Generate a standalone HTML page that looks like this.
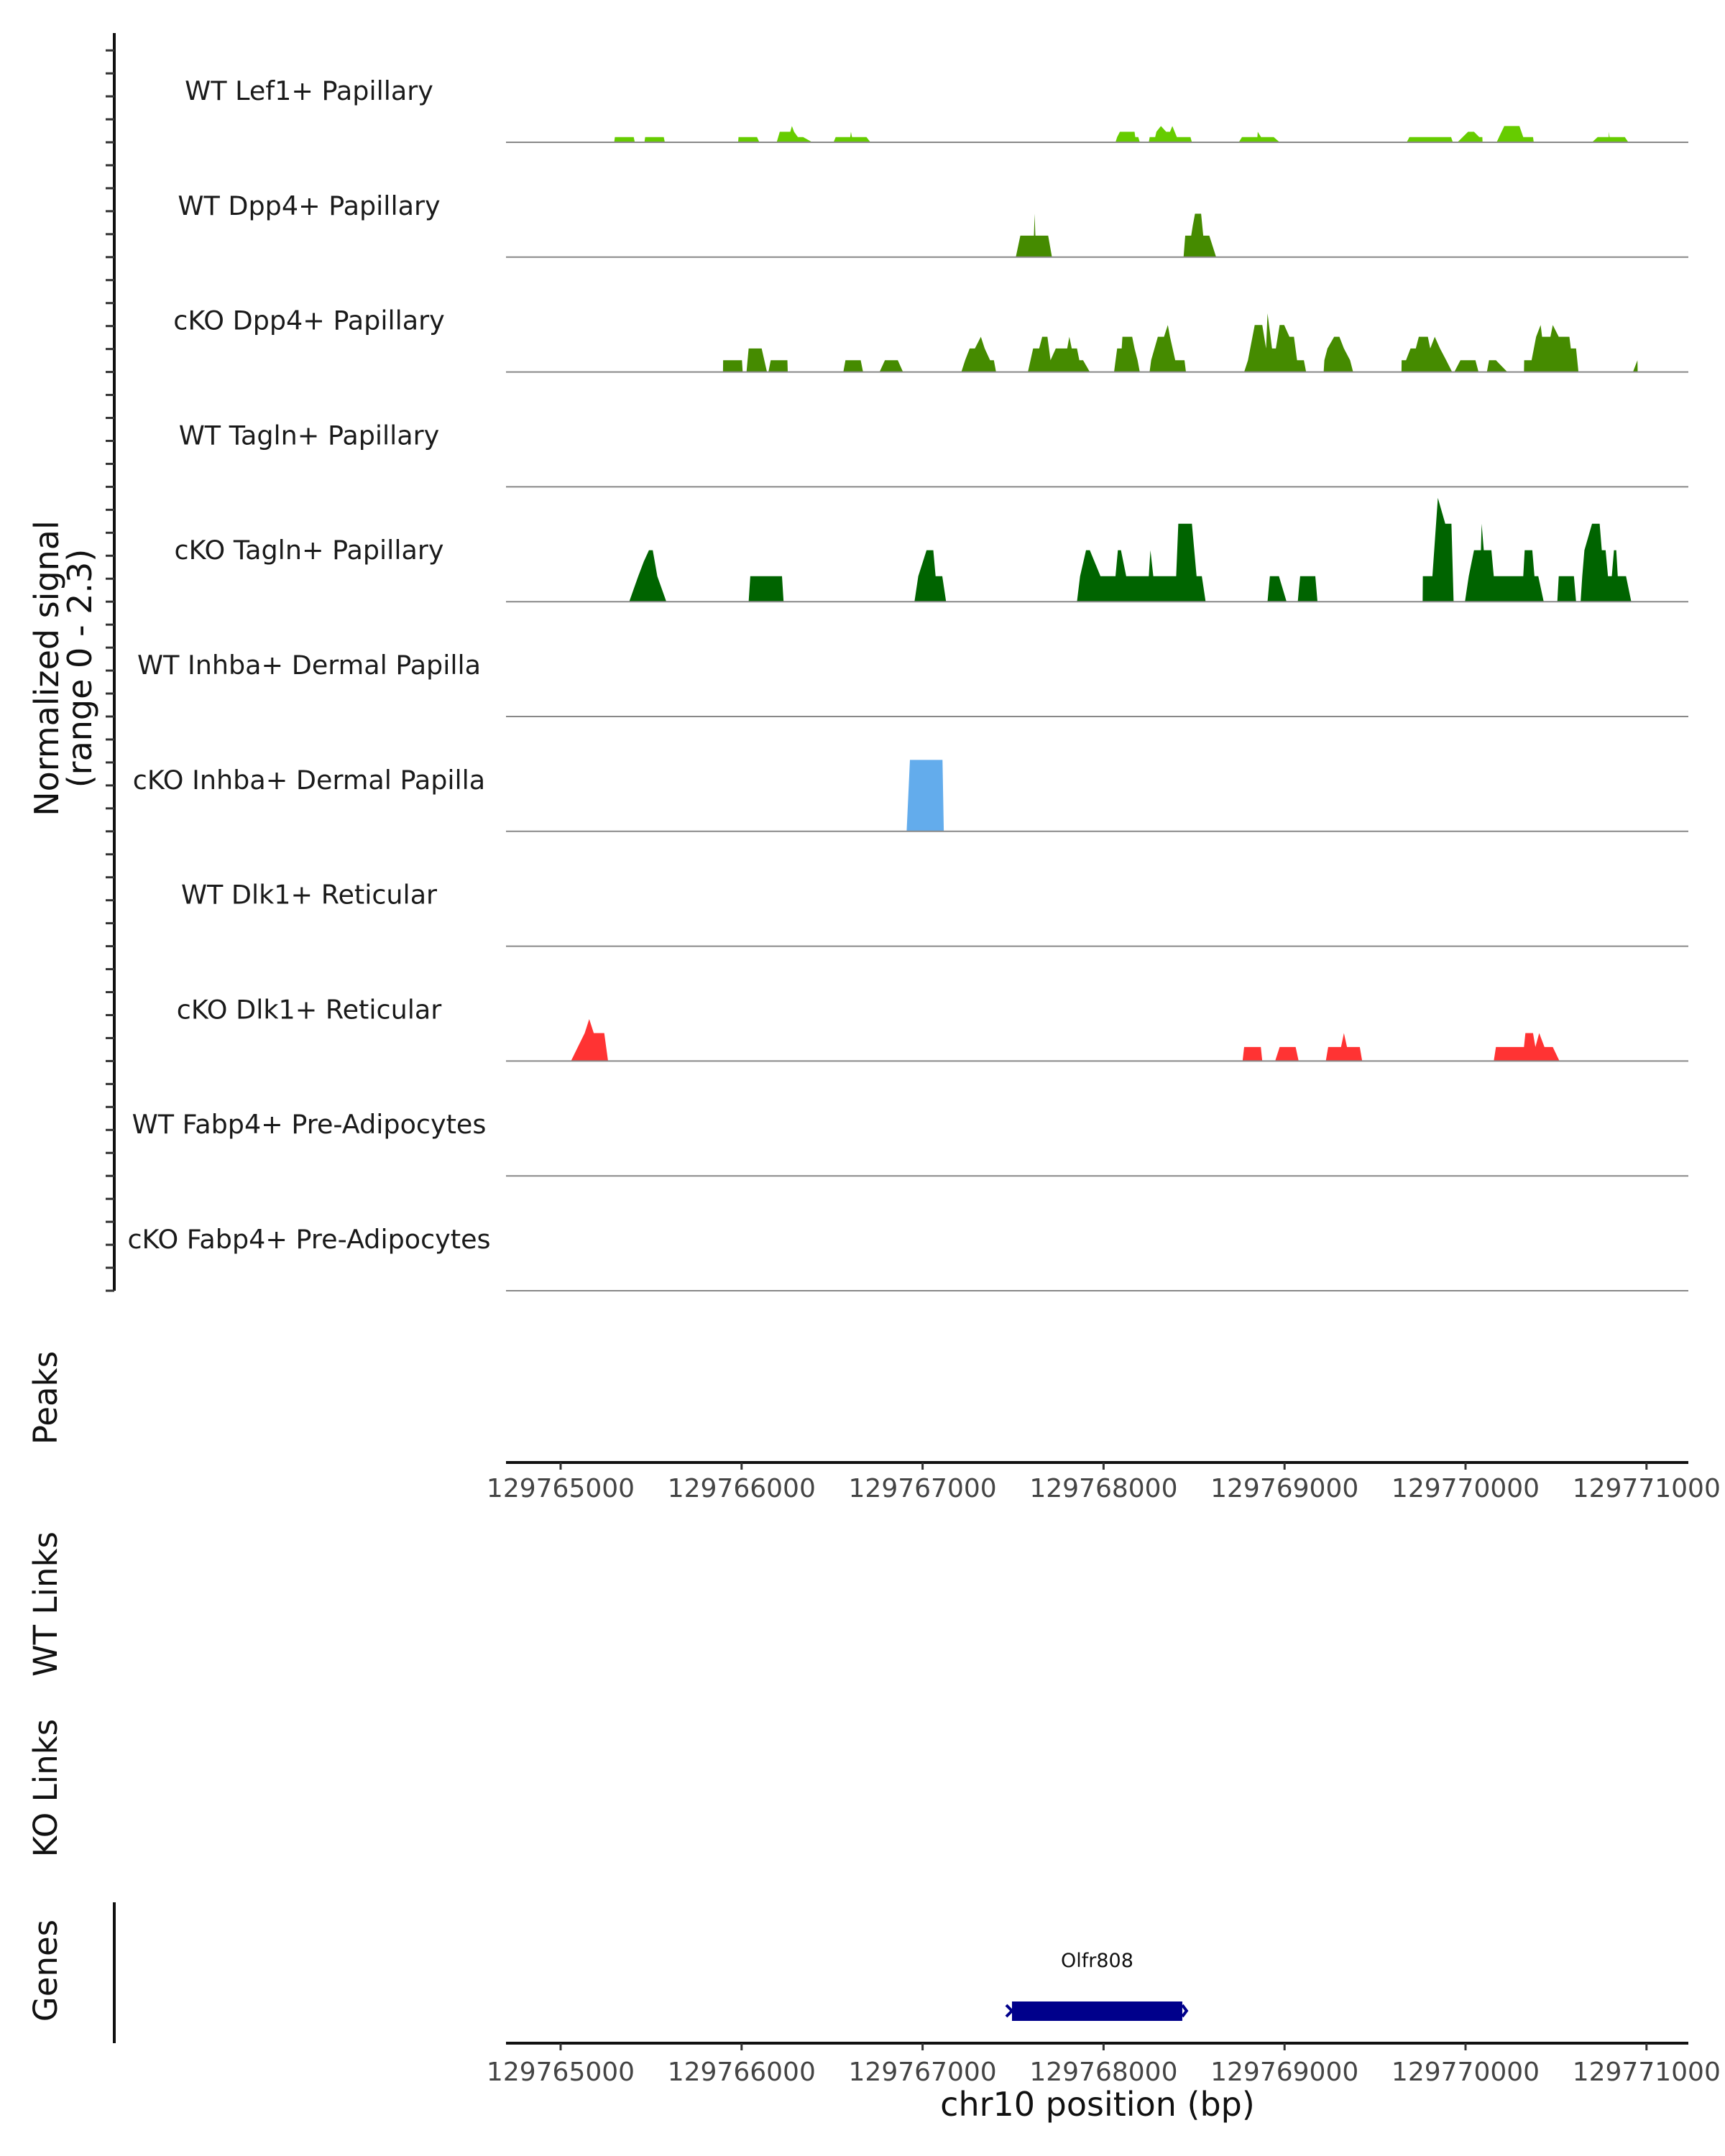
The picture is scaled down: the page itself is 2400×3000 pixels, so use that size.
<!DOCTYPE html>
<html><head><meta charset="utf-8"><style>
html,body{margin:0;padding:0;background:#fff;}
svg{display:block;font-family:"DejaVu Sans","Liberation Sans",sans-serif;}
</style></head><body>
<svg id="chart" width="2400" height="3000" viewBox="0 0 2400 3000" xmlns="http://www.w3.org/2000/svg">
<g id="tracks"></g>
<g id="leftaxis"></g>
<g id="xaxes"></g>
<text transform="translate(81,930) rotate(-90)" text-anchor="middle" font-size="46" fill="#111">Normalized signal</text>
<text transform="translate(127,930) rotate(-90)" text-anchor="middle" font-size="46" fill="#111">(range 0 - 2.3)</text>
<text transform="translate(79,1945) rotate(-90)" text-anchor="middle" font-size="45" fill="#111">Peaks</text>
<text transform="translate(79,2232) rotate(-90)" text-anchor="middle" font-size="45" fill="#111">WT Links</text>
<text transform="translate(79,2488) rotate(-90)" text-anchor="middle" font-size="45" fill="#111">KO Links</text>
<text transform="translate(79,2742) rotate(-90)" text-anchor="middle" font-size="45" fill="#111">Genes</text>
<line x1="159" y1="2647" x2="159" y2="2843" stroke="#111" stroke-width="4"/>
<g id="genes"></g>
<text x="1527" y="2944" text-anchor="middle" font-size="46" fill="#111">chr10 position (bp)</text>
</svg>
<script>
const START = 129765000;
const trackNames = ["WT Lef1+ Papillary","WT Dpp4+ Papillary","cKO Dpp4+ Papillary","WT Tagln+ Papillary","cKO Tagln+ Papillary","WT Inhba+ Dermal Papilla","cKO Inhba+ Dermal Papilla","WT Dlk1+ Reticular","cKO Dlk1+ Reticular","WT Fabp4+ Pre-Adipocytes","cKO Fabp4+ Pre-Adipocytes"];
const trackColors = ["#66cc00","#458b00","#458b00","#006400","#006400","#63acec","#63acec","#ff3333","#ff3333","#aaaaaa","#aaaaaa"];
const tickValues = [129765000,129766000,129767000,129768000,129769000,129770000,129771000];
const geneStart = 129767494, geneEnd = 129768435;
const geneName = "Olfr808";
// coverage points: [bp offset from START, normalized signal]
const lef1WT = [[296,0],[300,.105],[404,.105],[410,0],[463,0],[467,.105],[570,.105],[576,0],[981,0],[983,.105],[1085,.105],[1098,0],[1194,0],[1211,.21],[1269,.21],[1278,.325],[1290,.21],[1311,.105],[1340,.105],[1391,0],[1508,0],[1520,.105],[1600,.105],[1604,.21],[1610,.105],[1690,.105],[1712,0],[3066,0],[3075,.105],[3090,.21],[3171,.21],[3175,.105],[3192,.105],[3200,0],[3250,0],[3255,.105],[3285,.105],[3292,.21],[3317,.325],[3346,.21],[3367,.21],[3380,.325],[3405,.105],[3480,.105],[3488,0],[3747,0],[3765,.105],[3850,.105],[3852,.21],[3870,.105],[3940,.105],[3973,0],[4675,0],[4690,.105],[4920,.105],[4930,0],[4955,0],[5014,.21],[5047,.21],[5076,.105],[5093,.105],[5094,0],[5172,0],[5185,.105],[5214,.325],[5298,.325],[5319,.105],[5373,.105],[5377,0],[5699,0],[5730,.105],[5791,.105],[5792,.21],[5796,.105],[5880,.105],[5900,0]];
const dpp4WT = [[2515,0],[2540,.43],[2615,.43],[2619,.87],[2623,.43],[2694,.43],[2715,0],[3442,0],[3451,.43],[3484,.43],[3493,.63],[3505,.87],[3539,.87],[3551,.43],[3584,.43],[3622,0]];
const dpp4KO = [[897,0],[898,.235],[1002,.235],[1006,0],[1027,0],[1039,.47],[1111,.47],[1140,0],[1148,0],[1161,.235],[1253,.235],[1255,0],[1562,0],[1574,.235],[1658,.235],[1671,0],[1762,0],[1792,.235],[1863,.235],[1892,0],[2214,0],[2235,.235],[2260,.47],[2289,.47],[2322,.705],[2343,.47],[2373,.235],[2394,.235],[2406,0],[2582,0],[2611,.47],[2644,.47],[2661,.705],[2690,.705],[2707,.235],[2736,.47],[2799,.47],[2811,.705],[2824,.47],[2853,.47],[2866,.235],[2887,.235],[2924,0],[3058,0],[3075,.47],[3100,.47],[3104,.705],[3158,.705],[3171,.47],[3188,.235],[3200,0],[3254,0],[3263,.235],[3300,.705],[3334,.705],[3355,.94],[3367,.705],[3396,.235],[3447,.235],[3455,0],[3777,0],[3798,.235],[3835,.94],[3877,.94],[3898,.47],[3906,1.175],[3931,.47],[3952,.47],[3973,.94],[3998,.94],[4027,.705],[4052,.705],[4069,.235],[4107,.235],[4119,0],[4216,0],[4220,.235],[4237,.47],[4274,.705],[4303,.705],[4328,.47],[4362,.235],[4379,0],[4646,0],[4647,.235],[4671,.235],[4696,.47],[4725,.47],[4742,.705],[4792,.705],[4805,.47],[4830,.705],[4859,.47],[4893,.235],[4926,0],[4938,0],[4972,.235],[5055,.235],[5072,0],[5118,0],[5130,.235],[5168,.235],[5231,0],[5323,0],[5324,.235],[5365,.235],[5390,.705],[5415,.94],[5423,.705],[5469,.705],[5482,.94],[5515,.705],[5574,.705],[5582,.47],[5611,.47],[5624,0],[5925,0],[5950,.235],[5951,0]];
const taglnKO = [[379,0],[429,.51],[459,.8],[488,1.03],[509,1.03],[534,.51],[584,0],[1039,0],[1048,.51],[1223,.51],[1232,0],[1955,0],[1976,.51],[2022,1.03],[2059,1.03],[2072,.51],[2109,.51],[2130,0],[2853,0],[2870,.51],[2903,1.03],[2924,1.03],[2983,.51],[3066,.51],[3079,1.03],[3096,1.03],[3125,.51],[3250,.51],[3259,1.03],[3275,.51],[3401,.51],[3413,1.56],[3488,1.56],[3514,.51],[3543,.51],[3564,0],[3906,0],[3919,.51],[3969,.51],[4011,0],[4073,0],[4086,.51],[4170,.51],[4182,0],[4763,0],[4764,.51],[4817,.51],[4847,2.08],[4888,1.56],[4922,1.56],[4934,0],[4997,0],[5018,.51],[5047,1.03],[5085,1.03],[5089,1.56],[5101,1.03],[5143,1.03],[5156,.51],[5319,.51],[5327,1.03],[5369,1.03],[5381,.51],[5402,.51],[5432,0],[5507,0],[5515,.51],[5599,.51],[5611,0],[5636,0],[5645,.51],[5657,1.03],[5699,1.56],[5741,1.56],[5753,1.03],[5774,1.03],[5787,.51],[5808,.51],[5820,1.03],[5833,1.03],[5841,.51],[5887,.51],[5916,0]];
const inhbaKO = [[1912,0],[1930,1.43],[2110,1.43],[2117,0]];
const dlk1KO = [[57,0],[133,.56],[158,.84],[183,.56],[241,.56],[262,0],[3768,0],[3777,.28],[3869,.28],[3877,0],[3948,0],[3973,.28],[4061,.28],[4078,0],[4228,0],[4241,.28],[4312,.28],[4328,.56],[4345,.28],[4416,.28],[4429,0],[5156,0],[5168,.28],[5323,.28],[5331,.56],[5373,.56],[5386,.28],[5407,.56],[5436,.28],[5482,.28],[5519,0]];
const trackData = [lef1WT,dpp4WT,dpp4KO,[],taglnKO,[],inhbaKO,[],dlk1KO,[],[]];

const NS = "http://www.w3.org/2000/svg";
const X0 = 780, PXPERBP = 0.2518, PL = 704, PR = 2349;
const TRACK_H = 159.8, BASE0 = 198, YMAX = 2.3;
function xs(bp){ return X0 + (bp - START) * PXPERBP; }
function ys(i, v){ return BASE0 + TRACK_H * i - v / YMAX * TRACK_H; }
function mk(tag, attrs, parent){ const e = document.createElementNS(NS, tag); for (const k in attrs) e.setAttribute(k, attrs[k]); parent.appendChild(e); return e; }

const tracks = document.getElementById('tracks');
trackNames.forEach((name, i) => {
  const g = mk('g', {}, tracks);
  
  
  const base = ys(i, 0);
  const lab = mk('text', {x: 430, y: base - 59, 'text-anchor': 'middle', 'font-size': 36.5, fill: '#1a1a1a'}, g);
  lab.textContent = name;
  
  
  const d = trackData[i];
  if (d.length) {
    let pts = xs(START + d[0][0]).toFixed(1) + ',' + base;
    d.forEach(p => { pts += ' ' + xs(START + p[0]).toFixed(1) + ',' + ys(i, p[1]).toFixed(1); });
    pts += ' ' + xs(START + d[d.length - 1][0]).toFixed(1) + ',' + base;
    const poly = mk('polygon', {points: pts, fill: trackColors[i]}, g);
    
    
  }
  const ln = mk('line', {x1: PL, x2: PR, y1: base, y2: base, stroke: '#888', 'stroke-width': 2}, g);
  
  
});

const la = document.getElementById('leftaxis');
const axl = mk('line', {x1: 159, x2: 159, y1: 46, y2: ys(10, 0), stroke: '#111', 'stroke-width': 4}, la);


for (let k = -4; k <= 50; k++) {
  const y = BASE0 + k * TRACK_H / 5;
  const t = mk('line', {x1: 147, x2: 159, y1: y, y2: y, stroke: '#333', 'stroke-width': 3}, la);
  
  
}

const xa = document.getElementById('xaxes');
[[2035, 2083, 'peaks-x-axis'], [2843, 2895, 'bottom-x-axis']].forEach(([ay, ty, nm]) => {
  const g = mk('g', {}, xa);
  
  
  const l = mk('line', {x1: PL, x2: PR, y1: ay, y2: ay, stroke: '#111', 'stroke-width': 4}, g);
  
  
  tickValues.forEach(v => {
    const tk = mk('line', {x1: xs(v), x2: xs(v), y1: ay, y2: ay + 10, stroke: '#333', 'stroke-width': 3}, g);
    
    
    const tl = mk('text', {x: xs(v), y: ty, 'text-anchor': 'middle', 'font-size': 36, fill: '#444'}, g);
    tl.textContent = String(v);
    
    
  });
});

const gg = document.getElementById('genes');
const gx1 = xs(geneStart), gx2 = xs(geneEnd);
const gr = mk('rect', {x: gx1, y: 2785, width: gx2 - gx1, height: 27, fill: '#00008b'}, gg);


const ga = mk('path', {d: `M${gx1-8},2790 L${gx1},2798 L${gx1-8},2806 M${gx2},2790 L${gx2+6},2798 L${gx2},2806`, stroke: '#00008b', 'stroke-width': 4, fill: 'none'}, gg);


const gl = mk('text', {x: (gx1 + gx2) / 2, y: 2737, 'text-anchor': 'middle', 'font-size': 27, fill: '#111'}, gg);
gl.textContent = geneName;


</script>
</body></html>
